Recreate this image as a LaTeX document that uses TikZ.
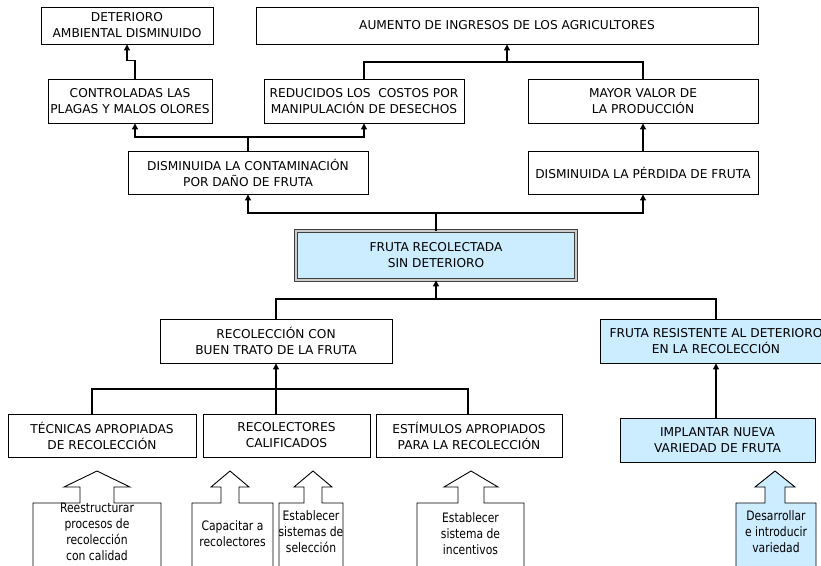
\documentclass[tikz,border=0pt]{standalone}
\usepackage{fontspec}
\setmainfont{DejaVu Sans}
\newfontfamily\estrecha[FakeStretch=0.83]{DejaVu Sans}
\usetikzlibrary{arrows.meta}
\definecolor{celeste}{RGB}{204,236,255}
\tikzset{
  caja/.style={draw, line width=0.9pt, align=center, inner sep=0pt, font=\fontsize{12.2}{16}\selectfont},
  accion/.style={align=center, inner sep=0pt, font=\estrecha\fontsize{13}{16}\selectfont},
  flecha/.style={-{Triangle[width=6pt,length=6pt]}, line width=1.1pt},
  linea/.style={line width=1.1pt}
}
\begin{document}
\begin{tikzpicture}[x=1pt, y=-1pt]
    \useasboundingbox (0,0) rectangle (821,565);
    \clip (0,0) rectangle (821,565);
    % Fines
    \node[caja, minimum width=172, minimum height=37] (det) at (127,25.5) {DETERIORO\\AMBIENTAL DISMINUIDO};
    \node[caja, minimum width=502, minimum height=37] (aum) at (507,25.5) {AUMENTO DE INGRESOS DE LOS AGRICULTORES};
    \node[caja, minimum width=164, minimum height=44] (ctrl) at (130,101) {CONTROLADAS LAS\\PLAGAS Y MALOS OLORES};
    \node[caja, minimum width=200, minimum height=44] (red) at (364,101) {REDUCIDOS LOS \ COSTOS POR\\MANIPULACIÓN DE DESECHOS};
    \node[caja, minimum width=230, minimum height=44] (may) at (643,101) {MAYOR VALOR DE\\LA PRODUCCIÓN};
    \node[caja, minimum width=240, minimum height=43] (cont) at (248,172.5) {DISMINUIDA LA CONTAMINACIÓN\\POR DAÑO DE FRUTA};
    \node[caja, minimum width=230, minimum height=43] (perd) at (643,172.5) {DISMINUIDA LA PÉRDIDA DE FRUTA};
    % Objetivo central
    \node[caja, fill=celeste, draw=black!75, double=black!20, double distance=1.6pt, line width=0.8pt,
          minimum width=280, minimum height=49] (fruta) at (436,255.5) {FRUTA RECOLECTADA\\SIN DETERIORO};
    % Medios
    \node[caja, minimum width=232, minimum height=44] (rec) at (276,341) {RECOLECCIÓN CON\\BUEN TRATO DE LA FRUTA};
    \node[caja, fill=celeste, minimum width=232, minimum height=44] (res) at (716,341) {FRUTA RESISTENTE AL DETERIORO\\EN LA RECOLECCIÓN};
    \node[caja, minimum width=188, minimum height=43] (tec) at (102,435.5) {TÉCNICAS APROPIADAS\\DE RECOLECCIÓN};
    \node[caja, minimum width=167, minimum height=43] (rcal) at (286.5,435.5) {RECOLECTORES\\CALIFICADOS};
    \node[caja, minimum width=186, minimum height=43] (est) at (469,435.5) {ESTÍMULOS APROPIADOS\\PARA LA RECOLECCIÓN};
    \node[caja, fill=celeste, minimum width=195, minimum height=44] (imp) at (717.5,440) {IMPLANTAR NUEVA\\VARIEDAD DE FRUTA};
    % Conectores de fines
    \draw[flecha] ([xshift=5pt]ctrl.north) -- ++(0,-18) -| (det.south);
    \coordinate (j1) at (248,137);
    \draw[linea] (cont.north) -- (j1);
    \draw[flecha] (j1) -| ([xshift=5pt]ctrl.south);
    \draw[flecha] (j1) -| (red.south);
    \coordinate (j2) at (507,62);
    \draw[linea] (red.north) |- (j2) -| (may.north);
    \draw[flecha] (j2) -- (aum.south);
    \draw[flecha] (perd.north) -- (may.south);
    \coordinate (j3) at (436,213);
    \draw[linea] (fruta.north) -- (j3);
    \draw[flecha] (j3) -| (cont.south);
    \draw[flecha] (j3) -| (perd.south);
    % Conectores de medios
    \coordinate (j4) at (436,299);
    \draw[linea] (rec.north) |- (j4) -| (res.north);
    \draw[flecha] (j4) -- (fruta.south);
    \coordinate (j5) at (276,389);
    \draw[linea] ([xshift=-10pt]tec.north) |- (j5) -| ([xshift=-1pt]est.north);
    \draw[flecha] (rcal.north -| rec.south) -- (rec.south);
    \draw[flecha] (imp.north -| res.south) -- (res.south);
    % Acciones (flechas de bloque)
    \foreach \l/\r/\a/\s/\h in {33/161/97/17/33, 192/273/230/9/19, 279/343/313/9/19, 417/524/471/13/27} {
        \draw[fill=white, line width=0.9pt] (\l,580) -- (\l,503) -- ({\a-\s},503) -- ({\a-\s},487) -- ({\a-\h},487)
            -- (\a,471) -- ({\a+\h},487) -- ({\a+\s},487) -- ({\a+\s},503) -- (\r,503) -- (\r,580);
    }
    \draw[fill=celeste, line width=0.9pt] (736,580) -- (736,503) -- (765,503) -- (765,487) -- (755,487)
        -- (775,471) -- (795,487) -- (785,487) -- (785,503) -- (816,503) -- (816,580);
    \node[accion, anchor=north] (a1) at (97,503) {Reestructurar\\procesos de\\recolección\\con calidad};
    \node[accion] (a2) at (232.5,534) {Capacitar a\\recolectores};
    \node[accion, anchor=north] (a3) at (311,510) {Establecer\\sistemas de\\selección};
    \node[accion, anchor=north] (a4) at (470.5,512) {Establecer\\sistema de\\incentivos};
    \node[accion, anchor=north] (a5) at (776,510) {Desarrollar\\e introducir\\variedad};
\end{tikzpicture}
\end{document}
